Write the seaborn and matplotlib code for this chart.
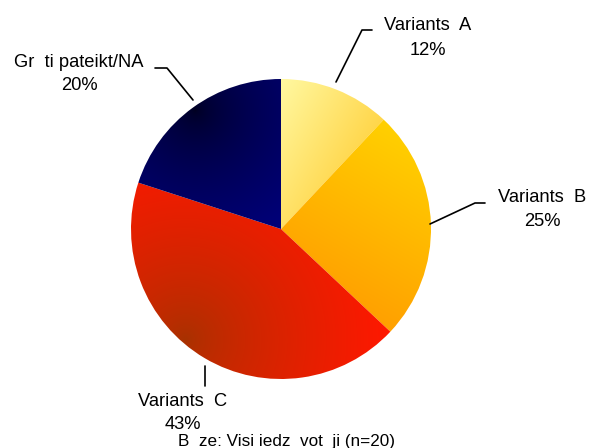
import numpy as np
import matplotlib.pyplot as plt
import seaborn as sns
from matplotlib.colors import to_rgb

# chart data
labels = ["Variants  A", "Variants  B", "Variants  C", "Gr  ti pateikt/NA"]
shares = [12, 25, 43, 20]
footer = "B  ze: Visi iedz  vot  ji (n=20)"

# two-tone fills per slice: (mode, colour near, colour far, param, gamma)
fills = [
    ("linear", "#FFF8A0", "#FFD64A", -30, 1.0),
    ("linear", "#FFD000", "#FFA000", -120, 1.0),
    ("radial", "#A63200", "#FF1800", (185, 340), 0.7),
    ("radial", "#000020", "#00007A", (195, 110), 0.6),
]

W, H = 589, 448
sns.set_theme(style="white")
plt.rcParams["font.family"] = ["Liberation Sans", "DejaVu Sans"]

fig = plt.figure(figsize=(W / 100, H / 100), dpi=100)
ax = fig.add_axes([0, 0, 1, 1])

cx, cy, r = 281, H - 229, 150
wedges, _ = ax.pie(shares, startangle=90, counterclock=False,
                   center=(cx, cy), radius=r, frame=True,
                   wedgeprops=dict(linewidth=0, facecolor="none"))
ax.set_aspect("equal")
ax.axis("off")

# gradient images clipped to each wedge
n = 300
xs = np.linspace(cx - r, cx + r, n)
ys = np.linspace(cy - r, cy + r, n)
gx, gy = np.meshgrid(xs, ys)
for w, (mode, c1, c2, p, g) in zip(wedges, fills):
    mask = w.get_path().contains_points(
        np.c_[gx.ravel(), gy.ravel()]).reshape(gx.shape)
    if mode == "linear":
        a = np.deg2rad(p)
        t = gx * np.cos(a) + gy * np.sin(a)
    else:
        fx, fy = p[0], H - p[1]
        t = np.hypot(gx - fx, gy - fy)
    tm = t[mask] if mask.any() else t
    t = np.clip((t - tm.min()) / (tm.max() - tm.min() + 1e-9), 0, 1) ** g
    a1, a2 = np.array(to_rgb(c1)), np.array(to_rgb(c2))
    img = a1 + (a2 - a1) * t[..., None]
    im = ax.imshow(img, extent=(cx - r, cx + r, cy - r, cy + r),
                   origin="lower", interpolation="bilinear", zorder=1)
    im.set_clip_path(w)

ax.set_xlim(0, W)
ax.set_ylim(0, H)

fs = 13.2
# label anchors (image coords): x centre, baseline of first line, of second line
lab_pos = [(428, 30, 55), (542, 202, 226), (183, 406, 429), (79, 67, 90)]
leaders = [
    [(336, 82), (362, 30), (372, 30)],
    [(430, 224), (475, 203), (485, 203)],
    [(205, 366), (205, 386)],
    [(193, 100), (167, 68), (155, 68)],
]
for lab, s, (lx, b1, b2), pts in zip(labels, shares, lab_pos, leaders):
    ax.text(lx, H - b1, lab, ha="center", va="baseline",
            fontsize=fs, color="black", zorder=3)
    ax.text(lx, H - b2, f"{s}%", ha="center", va="baseline",
            fontsize=fs, color="black", zorder=3)
    px, py = zip(*pts)
    ax.plot(px, [H - v for v in py], color="black", lw=1.2, zorder=3)

ax.text(287, H - 445.5, footer, ha="center", va="baseline",
        fontsize=12.3, color="black", zorder=3)

fig.savefig("out.png", dpi=100)
